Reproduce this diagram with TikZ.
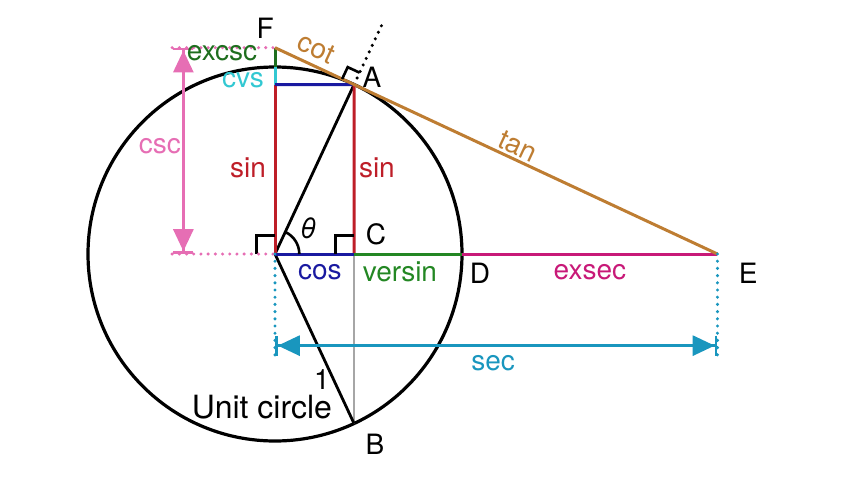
\documentclass[tikz,border=0pt]{standalone}
\usepackage{fontspec}
\setmainfont{TeX Gyre Heros}
\usepackage{tikz}
\usetikzlibrary{arrows.meta,positioning}

\definecolor{sinred}{RGB}{190,30,40}
\definecolor{cosblue}{RGB}{25,25,160}
\definecolor{vergreen}{RGB}{35,135,35}
\definecolor{exgreen}{RGB}{30,110,30}
\definecolor{cvscyan}{RGB}{50,200,210}
\definecolor{exmag}{RGB}{200,25,120}
\definecolor{tanorange}{RGB}{190,125,50}
\definecolor{cscpink}{RGB}{230,110,180}
\definecolor{secteal}{RGB}{25,150,190}

\tikzset{
  seg/.style={line width=1.5pt},
  dots/.style={line width=1.7pt, line cap=round, dash pattern=on 0pt off 3.6pt},
  lbl/.style={font=\fontsize{14}{16}\selectfont, inner sep=1pt},
  dimarrow/.style={line width=1.4pt,
    {Bar[width=10pt]Triangle[length=11pt,width=10pt]}-{Triangle[length=11pt,width=10pt]Bar[width=10pt]}}
}

\begin{document}
\begin{tikzpicture}[x=93.5pt,y=93.5pt]
\useasboundingbox (-1.4706,-1.2086) rectangle (3.1016,1.3583);

\coordinate (O) at (0,0);
\coordinate (A) at (65:1);
\coordinate (B) at (-65:1);
\coordinate (C) at (0.4226,0);
\coordinate (D) at (1,0);
\coordinate (E) at (2.3662,0);
\coordinate (F) at (0,1.1034);
\coordinate (P) at (0,0.9063);
\coordinate (Q) at (0,1);
\coordinate (Aout) at (65:1.36);

% circle and radii
\draw[line width=1.6pt] (O) circle[radius=1];
\draw[line width=0.9pt, black!35] (C) -- (B);
\draw[line width=1.4pt] (O) -- (A);
\draw[line width=1.4pt] (O) -- (B);
\draw[dots] (A) -- (Aout);

% segments
\draw[seg, sinred] (O) -- (P);
\draw[seg, cvscyan] (P) -- (Q);
\draw[seg, exgreen] (Q) -- (F);
\draw[seg, cosblue] (P) -- (A);
\draw[seg, sinred] (A) -- (C);
\draw[seg, cosblue] (O) -- (C);
\draw[seg, vergreen] (C) -- (D);
\draw[seg, exmag] (D) -- (E);
\draw[seg, tanorange] (F) -- (E);

% right angles and theta
\draw[line width=1.3pt] (O) ++(-0.1,0) -- ++(0,0.1) -- ++(0.1,0);
\draw[line width=1.3pt] (C) ++(-0.1,0) -- ++(0,0.1) -- ++(0.1,0);
\draw[line width=1.3pt] (A) ++(155:0.07) -- ++(65:0.07) -- ++(-25:0.07);
\draw[line width=1.3pt] (O) ++(0.13,0) arc[start angle=0,end angle=65,radius=0.13];

% csc
\coordinate (cscT) at (-0.49,1.1034);
\coordinate (cscB) at (-0.49,0);
\coordinate (cscTl) at (-0.55,1.1034);
\coordinate (cscBl) at (-0.55,0);
\draw[dots, cscpink] (cscTl) -- (F);
\draw[dots, cscpink] (cscBl) -- (O);
\draw[dimarrow, cscpink] (cscB) -- (cscT);

% sec
\coordinate (secL) at (0,-0.49);
\coordinate (secR) at (2.3662,-0.49);
\coordinate (secLd) at (0,-0.55);
\coordinate (secRd) at (2.3662,-0.55);
\draw[dots, secteal] (O) -- (secLd);
\draw[dots, secteal] (E) -- (secRd);
\draw[dimarrow, secteal] (secL) -- (secR);

% labels
\node[lbl] (lF) at (-0.053,1.209) {F};
\node[lbl] (lA) at (0.519,0.947) {A};
\node[lbl] (lC) at (0.54,0.107) {C};
\node[lbl] (lD) at (1.096,-0.102) {D};
\node[lbl] (lE) at (2.53,-0.102) {E};
\node[lbl] (lB) at (0.535,-1.02) {B};
\node[lbl] (lth) at (0.176,0.139) {\itshape θ};
\node[lbl, cosblue] (lcos) at (0.24,-0.096) {cos};
\node[lbl, vergreen] (lver) at (0.668,-0.096) {versin};
\node[lbl, exmag] (lexsec) at (1.684,-0.096) {exsec};
\node[lbl, secteal] (lsec) at (1.166,-0.583) {sec};
\node[lbl, tanorange, rotate=-25] (ltan) at (1.30,0.575) {tan};
\node[lbl, tanorange, rotate=-25] (lcot) at (0.222,1.10) {cot};
\node[lbl, exgreen] (lexcsc) at (-0.283,1.075) {excsc};
\node[lbl, cvscyan] (lcvs) at (-0.171,0.93) {cvs};
\node[lbl, cscpink] (lcsc) at (-0.615,0.578) {csc};
\node[lbl, sinred] (lsinl) at (-0.144,0.46) {sin};
\node[lbl, sinred] (lsinr) at (0.545,0.46) {sin};
\node[lbl] (lone) at (0.251,-0.674) {1};
\node[lbl, font=\fontsize{16}{18}\selectfont] (lunit) at (-0.07,-0.82) {Unit circle};
\end{tikzpicture}
\end{document}
